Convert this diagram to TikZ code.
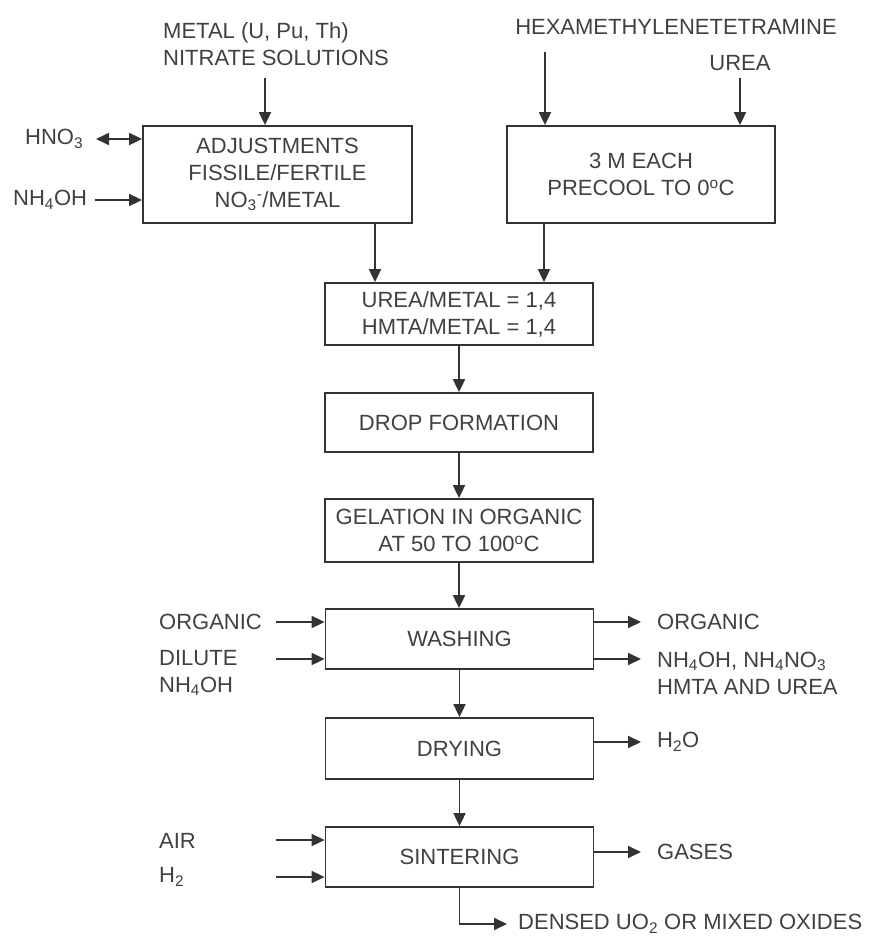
\documentclass[tikz,border=0pt]{standalone}
\usepackage{fontspec}
\setmainfont{Liberation Sans}
\usetikzlibrary{arrows.meta}
\begin{document}
\begin{tikzpicture}[x=1pt,y=-1pt,
  every node/.style={font=\fontsize{22}{27}\selectfont, text=black!75},
  procbox/.style={draw=black!80, line width=1.8pt, rectangle, inner sep=0pt, minimum width=268pt, align=center},
  lbl/.style={inner sep=0pt, anchor=west, align=left},
  arr/.style={draw=black!80, line width=1.8pt, -{Triangle[length=13pt,width=12pt]}},
  darr/.style={draw=black!80, line width=1.8pt, {Triangle[length=13pt,width=12pt]}-{Triangle[length=13pt,width=12pt]}},
  ln/.style={draw=black!80, line width=1.8pt}]
\useasboundingbox (0,0) rectangle (882,937);

% process boxes
\node[procbox, minimum width=269pt, minimum height=97pt] (adj) at (277.5,174.5)
  {ADJUSTMENTS\\FISSILE/FERTILE\\NO\textsubscript{3}\textsuperscript{-}/METAL};
\node[procbox, minimum height=97pt] (pre) at (641,174.5) {3 M EACH\\PRECOOL TO 0\textsuperscript{o}C};
\node[procbox, minimum height=62pt] (mix) at (459,314) {UREA/METAL = 1,4\\HMTA/METAL = 1,4};
\node[procbox, minimum height=59pt] (drop) at (459,422.5) {DROP FORMATION};
\node[procbox, minimum height=63pt] (gel) at (459,530.5) {GELATION IN ORGANIC\\AT 50 TO 100\textsuperscript{o}C};
\node[procbox, minimum height=60pt] (wash) at (459.5,639) {WASHING};
\node[procbox, minimum height=61pt] (dry) at (459.5,748.5) {DRYING};
\node[procbox, minimum height=60pt] (sint) at (459.5,857) {SINTERING};

% labels
\node[lbl] (metal) at (163,44.5) {METAL (U, Pu, Th)\\NITRATE SOLUTIONS};
\node[inner sep=0pt] (hexa) at (676,27) {HEXAMETHYLENETETRAMINE};
\node[inner sep=0pt] (urea) at (740,63) {UREA};
\node[lbl] (hno) at (25,139) {HNO\textsubscript{3}};
\node[lbl] (nhA) at (13,200) {NH\textsubscript{4}OH};
\node[lbl] (orgin) at (159,622) {ORGANIC};
\node[lbl] (dil) at (159,673) {DILUTE\\NH\textsubscript{4}OH};
\node[lbl] (orgout) at (657,622) {ORGANIC};
\node[lbl] (waste) at (657,673) {NH\textsubscript{4}OH, NH\textsubscript{4}NO\textsubscript{3}\\HMTA AND UREA};
\node[lbl] (water) at (657,742) {H\textsubscript{2}O};
\node[lbl] (air) at (159,841) {AIR};
\node[lbl] (hyd) at (159,877) {H\textsubscript{2}};
\node[lbl] (gas) at (657,852) {GASES};
\node[lbl] (prod) at (518,924) {DENSED UO\textsubscript{2} OR MIXED OXIDES};

% free ends
\coordinate (cm) at (265,78);
\coordinate (ch) at (545,52);
\coordinate (cu) at (740,78);
\coordinate (chno) at (96,139);
\coordinate (cnh) at (95,200);
\coordinate (c1) at (375,0);
\coordinate (c2) at (544,0);
\coordinate (corgin) at (276,622);
\coordinate (cdil) at (276,659);
\coordinate (corgout) at (641,622);
\coordinate (cwaste) at (641,659);
\coordinate (cwater) at (641,742);
\coordinate (cair) at (276,840);
\coordinate (chyd) at (276,877);
\coordinate (cgas) at (641,852);
\coordinate (cbend) at (459.5,924);
\coordinate (cprod) at (507,924);

% connectors
\draw[arr] (cm) -- (cm |- adj.north);
\draw[arr] (ch) -- (ch |- pre.north);
\draw[arr] (cu) -- (cu |- pre.north);
\draw[darr] (chno) -- (chno -| adj.west);
\draw[arr] (cnh) -- (cnh -| adj.west);
\draw[arr] (c1 |- adj.south) -- (c1 |- mix.north);
\draw[arr] (c2 |- pre.south) -- (c2 |- mix.north);
\draw[arr] (mix.south) -- (drop.north);
\draw[arr] (drop.south) -- (gel.north);
\draw[arr] (gel.south) -- (gel.south |- wash.north);
\draw[arr] (wash.south) -- (dry.north);
\draw[arr] (dry.south) -- (sint.north);
\draw[arr] (corgin) -- (corgin -| wash.west);
\draw[arr] (cdil) -- (cdil -| wash.west);
\draw[arr] (corgout -| wash.east) -- (corgout);
\draw[arr] (cwaste -| wash.east) -- (cwaste);
\draw[arr] (cwater -| dry.east) -- (cwater);
\draw[arr] (cair) -- (cair -| sint.west);
\draw[arr] (chyd) -- (chyd -| sint.west);
\draw[arr] (cgas -| sint.east) -- (cgas);
\draw[arr] (sint.south) -- (cbend) -- (cprod);
\end{tikzpicture}
\end{document}
